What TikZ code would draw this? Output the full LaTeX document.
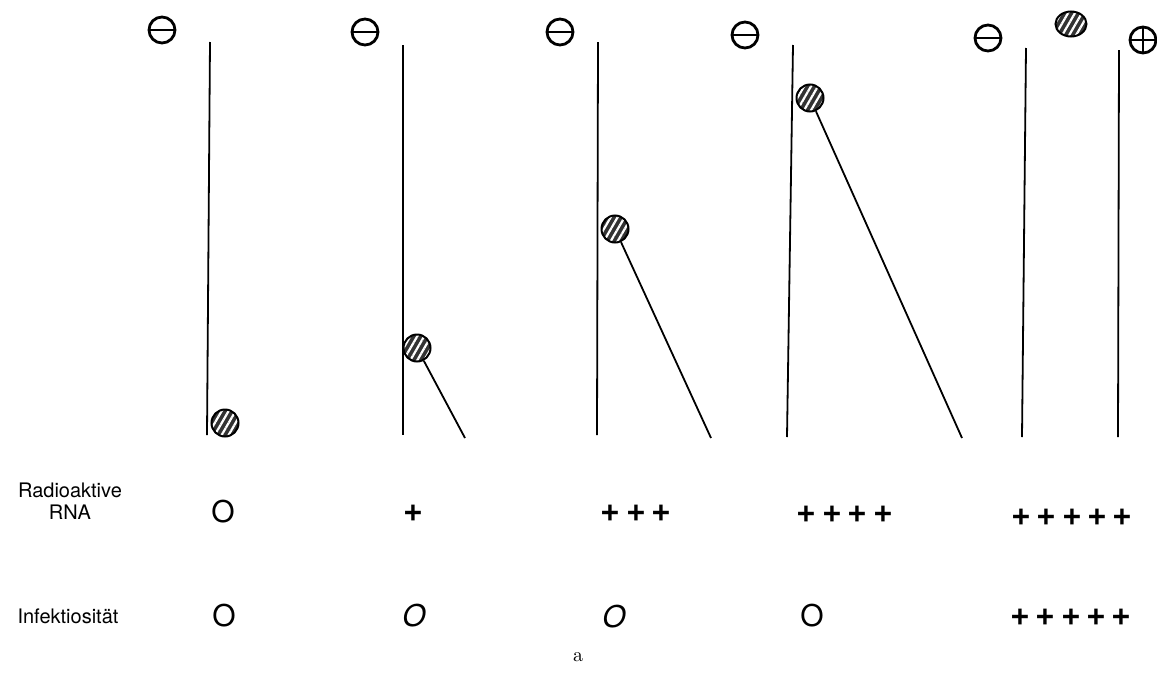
\documentclass[tikz,border=0pt]{standalone}
\usepackage{fontspec}
\setsansfont{TeX Gyre Heros}
\usetikzlibrary{patterns.meta,shapes.geometric}

\begin{document}
\begin{tikzpicture}[x=0.5pt,y=-0.5pt,
  track/.style={line width=0.9pt},
  rnaball/.style={circle,draw,line width=1pt,minimum size=13.5pt,inner sep=0pt,
    preaction={fill=black!80},
    pattern={Lines[angle=60,distance=3pt,line width=1.1pt]},pattern color=white},
  pole/.style={circle,draw,line width=1.4pt,minimum size=13pt,inner sep=0pt,
    path picture={\draw[line width=1.4pt] (path picture bounding box.west) -- (path picture bounding box.east);}},
  anode/.style={pole,
    path picture={\draw[line width=1.4pt] (path picture bounding box.west) -- (path picture bounding box.east)
      (path picture bounding box.north) -- (path picture bounding box.south);}},
  score/.style={inner sep=0pt,font=\sffamily\fontsize{15}{15}\selectfont},
  plusses/.style={inner sep=0pt,font={\sffamily\bfseries\fontsize{17}{17}\selectfont\spaceskip 2.8pt\relax}},
  rowlabel/.style={align=center,font=\sffamily\fontsize{10}{11}\selectfont}]
\useasboundingbox (0,0) rectangle (1157,675);

\coordinate (T1) at (210,42);
\coordinate (B1) at (207,435);
\coordinate (T2) at (403,45);
\coordinate (B2) at (403,435);
\coordinate (T3) at (598,42);
\coordinate (B3) at (597,435);
\coordinate (T4) at (793,45);
\coordinate (B4) at (787,437);
\coordinate (T5) at (1026,48);
\coordinate (B5) at (1022,437);
\coordinate (T6) at (1119,50);
\coordinate (B6) at (1118,437);
\coordinate (E2) at (465,438);
\coordinate (E3) at (711,438);
\coordinate (E4) at (962,438);

\foreach \i in {1,...,6} \draw[track] (T\i) -- (B\i);

\node[pole] (m1) at (162,30) {};
\node[pole] (m2) at (365,32) {};
\node[pole] (m3) at (560,32) {};
\node[pole] (m4) at (745,35) {};
\node[pole] (m5) at (988,38) {};
\node[anode] (p5) at (1143,40) {};

\node[rnaball] (b1) at (225,423) {};
\node[rnaball] (b2) at (417,348) {};
\node[rnaball] (b3) at (615,229) {};
\node[rnaball] (b4) at (810,98) {};
\node[rnaball,ellipse,minimum width=15.5pt,minimum height=12.5pt] (b5) at (1071,24) {};

\draw[track] (b2) -- (E2);
\draw[track] (b3) -- (E3);
\draw[track] (b4) -- (E4);

\node[rowlabel] (rna) at (70,501) {Radioaktive\\RNA};
\node[rowlabel] (inf) at (68,616) {Infektiosität};

\node[score] (r1) at (223,512) {O};
\node[plusses] (r2) at (413,513) {+};
\node[plusses] (r3) at (636,513) {+ + +};
\node[plusses] (r4) at (845,514) {+ + + +};
\node[plusses] (r5) at (1072,517) {+ + + + +};

\node[score] (i1) at (224,616) {O};
\node[score] (i2) at (414,616) {\itshape O};
\node[score] (i3) at (614,617) {\itshape O};
\node[score] (i4) at (812,616) {O};
\node[plusses] (i5) at (1071,617) {+ + + + +};

\node[font=\fontsize{10}{10}\selectfont] (fig) at (578,657) {a};
\end{tikzpicture}
\end{document}
